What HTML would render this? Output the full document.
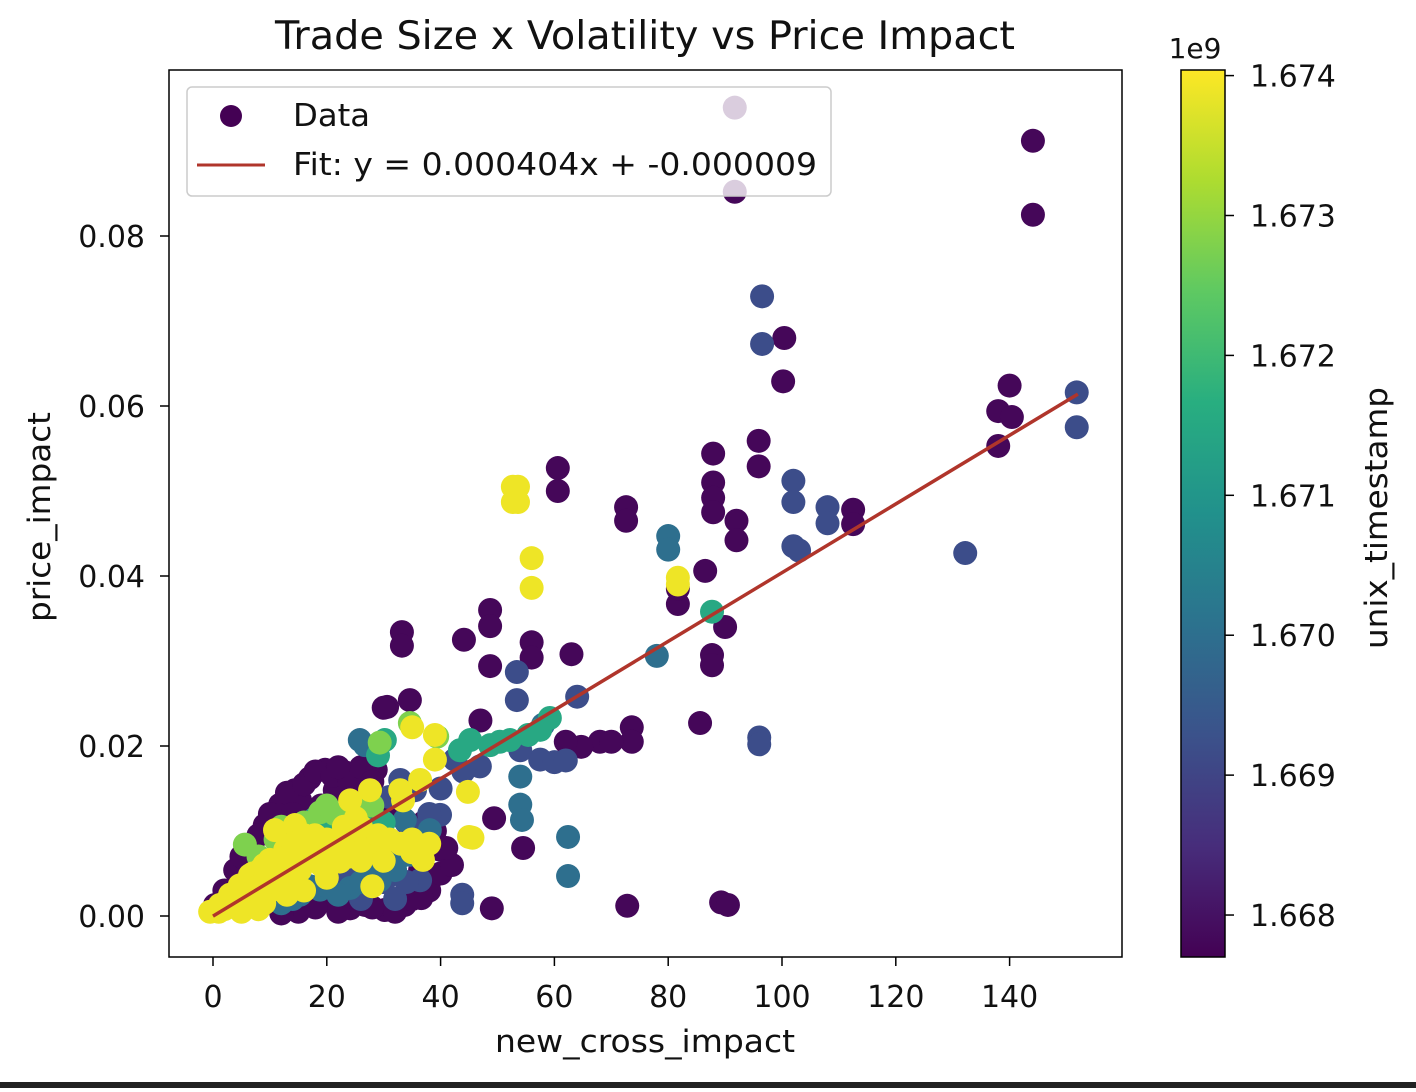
<!DOCTYPE html>
<html><head><meta charset="utf-8"><style>
body{margin:0;background:#fff;width:1416px;height:1088px;overflow:hidden;font-family:"DejaVu Sans","Liberation Sans",sans-serif}
</style></head><body>
<svg id="chart" width="1416" height="1088" xmlns="http://www.w3.org/2000/svg" font-family="DejaVu Sans, Liberation Sans, sans-serif">
<defs>
<linearGradient id="vir" x1="0" y1="1" x2="0" y2="0">
<stop offset="0" stop-color="#440154"/><stop offset="0.125" stop-color="#472d7b"/><stop offset="0.25" stop-color="#3b528b"/><stop offset="0.375" stop-color="#2c728e"/><stop offset="0.5" stop-color="#21918c"/><stop offset="0.625" stop-color="#28ae80"/><stop offset="0.75" stop-color="#5ec962"/><stop offset="0.875" stop-color="#addc30"/><stop offset="1" stop-color="#fde725"/>
</linearGradient>
<clipPath id="clip"><rect x="169" y="70" width="953" height="887"/></clipPath>
</defs>
<text x="645" y="49" font-size="39.5" text-anchor="middle" fill="#111" textLength="740" lengthAdjust="spacingAndGlyphs">Trade Size x Volatility vs Price Impact</text>
<g id="points" clip-path="url(#clip)"></g>
<line id="fit" stroke="#b0352b" stroke-width="3.5"/>
<rect x="169" y="70" width="953" height="887" fill="none" stroke="#000" stroke-width="1.5"/>
<g id="xticks"></g><g id="yticks"></g>
<text x="645" y="1052" font-size="31" text-anchor="middle" fill="#111" textLength="300" lengthAdjust="spacingAndGlyphs">new_cross_impact</text>
<text transform="translate(50,517) rotate(-90)" font-size="31" text-anchor="middle" fill="#111" textLength="210" lengthAdjust="spacingAndGlyphs">price_impact</text>
<g>
<rect x="187" y="87" width="644" height="109" rx="5" fill="#fff" fill-opacity="0.8" stroke="#ccc" stroke-width="1.5"/>
<circle cx="231" cy="116" r="11" fill="#440154"/>
<text x="293" y="126" font-size="31" fill="#111" textLength="77" lengthAdjust="spacingAndGlyphs">Data</text>
<line x1="197" y1="165" x2="265" y2="165" stroke="#b0352b" stroke-width="3"/>
<text x="293" y="175" font-size="31" fill="#111" textLength="524" lengthAdjust="spacingAndGlyphs">Fit: y = 0.000404x + -0.000009</text>
</g>
<rect x="1181" y="70" width="44" height="887" fill="url(#vir)" stroke="#000" stroke-width="1.5"/>
<g id="cticks"></g>
<text x="1195" y="58" font-size="28" text-anchor="middle" fill="#111">1e9</text>
<text transform="translate(1387,518) rotate(-90)" font-size="31" text-anchor="middle" fill="#111" textLength="262" lengthAdjust="spacingAndGlyphs">unix_timestamp</text>
<rect x="0" y="1082" width="1416" height="6" fill="#222"/>
</svg>
<script>
const xTicks=[0,20,40,60,80,100,120,140];
const yTicks=[0,0.02,0.04,0.06,0.08];
const yTickLabels=["0.00","0.02","0.04","0.06","0.08"];
const cTicks=[1.668,1.669,1.670,1.671,1.672,1.673,1.674];
const fitSlope=0.000404, fitIntercept=-0.000009, fitXMax=152;
const tDark=1.6678,tBlue=1.6692,tTeal=1.6700,tGreen=1.6715,tLime=1.6728,tYel=1.6739;
const ptsDark=[[0.35,0.0013],[3.9,0.0054],[6.5,0.0078],[9.1,0.0107],[11.8,0.0131],[14.4,0.0148],[17.0,0.0162],[19.7,0.0172],[23.2,0.0169],[21.4,0.0148],[15.3,0.0136],[25.0,0.0136],[26.7,0.0013],[30.2,0.0007],[24.1,0.0009],[33.7,0.0013],[36.4,0.0054],[38.1,0.0042],[30.6,0.0246],[34.6,0.0254],[39.9,0.0078],[28.6,0.0172],
[2,0.003],[5,0.007],[8,0.0095],[10,0.012],[13,0.0145],[16,0.0155],[18,0.017],[21,0.0165],[24,0.016],[27,0.015],[26,0.0175],[22,0.0175],[14,0.012],[19,0.013],[28,0.0158],[31,0.013],[20,0.002],[22,0.0005],[28,0.001],[32,0.0005],[35,0.002],[38,0.003],[40,0.005],[42,0.006],[18,0.001],[15,0.0005],[12,0.0003],[37,0.011],[39,0.01],[41,0.008],
[91.7,0.0951],[91.7,0.0852],[144.1,0.0912],[144.1,0.0825],[100.4,0.068],[100.2,0.0629],[140,0.0624],[138,0.0594],[140.4,0.0587],[138,0.0553],[60.6,0.0527],[60.6,0.05],[72.6,0.0481],[72.6,0.0465],[87.9,0.0544],[87.9,0.051],[87.9,0.0492],[87.9,0.0475],[95.9,0.0559],[95.9,0.0529],[92,0.0465],[92,0.0442],[112.5,0.0478],[112.5,0.0461],[81.7,0.0367],[81.7,0.0385],[86.5,0.0406],[90,0.034],[48.7,0.036],[48.7,0.0341],[44.1,0.0325],[33.2,0.0334],[33.2,0.0318],[56,0.0322],[56,0.0304],[48.7,0.0294],[63,0.0308],[87.7,0.0307],[87.7,0.0295],[85.6,0.0227],[73.6,0.0222],[73.6,0.0205],[68,0.0205],[70,0.0205],[64.7,0.0199],[47,0.023],[54.5,0.008],[49.4,0.0115],[72.8,0.0012],[89.3,0.0016],[90.5,0.0013],[49,0.0009],[36.6,0.0021],[30,0.0245],[62,0.0205]];
const ptsBlue=[[20.6,0.0042],[24.1,0.0054],[32.9,0.0084],[36.4,0.0101],[39.9,0.0119],[29.3,0.0066],[32.9,0.016],[35.5,0.0148],[42.5,0.0184],[36.4,0.0042],[46.9,0.0176],[57.5,0.0184],[54,0.0195],[43.8,0.0025],[43.8,0.0015],
[25,0.005],[27,0.007],[30,0.009],[34,0.011],[38,0.012],[30,0.004],[34,0.004],[28,0.012],[31,0.014],[40,0.015],[44,0.017],[26,0.002],[32,0.002],
[96.5,0.0729],[96.5,0.0673],[102,0.0512],[102,0.0487],[108,0.0481],[108,0.0462],[132.2,0.0427],[102,0.0435],[103,0.043],[53.4,0.0287],[53.4,0.0254],[64,0.0258],[96,0.021],[96,0.0202],[60,0.0181],[62,0.0183],[151.8,0.0616],[151.8,0.0575]];
const ptsTeal=[[15.3,0.0025],[18.8,0.0031],[24.1,0.0033],[29.3,0.0042],[32,0.0054],[34.6,0.0072],[38.1,0.0101],[33.7,0.0113],[25.8,0.0207],[26.7,0.0201],
[14,0.002],[17,0.0035],[20,0.0035],[22,0.0025],[26,0.004],[28,0.0055],[30,0.006],[33,0.007],[36,0.008],[12,0.0015],[24,0.009],[27,0.010],
[80,0.0447],[80,0.0431],[78,0.0306],[54,0.0164],[54,0.0131],[54.3,0.0113],[62.4,0.0093],[62.4,0.0047],[58,0.0225]];
const ptsGreen=[[30.2,0.0207],[29,0.0189],[22.3,0.0101],[25.8,0.0119],[45.2,0.0207],[48.7,0.0201],[52.2,0.0207],[55.4,0.0213],[59.2,0.0233],[57.5,0.0219],[43.4,0.0195],[50.4,0.0205],[87.7,0.0358],[18,0.0115],[20,0.010],[23,0.012],[26,0.0125],[15,0.008],[30,0.011]];
const ptsLime=[[5.6,0.0084],[18.8,0.0122],[34.6,0.0227],[29.3,0.0204],[39.4,0.0211],[21.4,0.012],[12,0.0105],[8,0.007],[11,0.009],[16,0.011],[20,0.013],[24,0.0125],[28,0.013]];
const ptsYel=[[-0.5,0.0005],[1.2,0.0013],[3,0.0025],[4.7,0.0036],[6.5,0.0048],[8.3,0.0054],[10,0.0066],[12.7,0.0078],[15.3,0.0089],[17.9,0.0095],[20.6,0.0084],[23.2,0.0089],[25.8,0.0078],[10.9,0.0101],[14.4,0.0107],[10,0.0042],[13.5,0.0048],[17,0.0066],[22.3,0.0064],[29.3,0.0078],[7.4,0.0031],[3.9,0.0019],[27.6,0.0148],[24.1,0.0136],[32.9,0.0148],[36.4,0.016],[33.4,0.0136],[15.3,0.0054],[18.8,0.0078],[36.9,0.0066],[25.1,0.0115],[11.8,0.0031],[39,0.0213],[39,0.0184],[35,0.0222],[45,0.0093],[45.6,0.0092],[44.8,0.0146],[52.7,0.0505],[52.7,0.0487],[53.6,0.0505],[53.6,0.0487],[56,0.0421],[56,0.0386],[81.7,0.0398],[81.7,0.039],[20,0.0045],[6,0.002],[2,0.0008],[28,0.0035],
[1,0.0005],[2,0.0015],[4,0.0012],[5,0.003],[6,0.004],[7,0.005],[8,0.0035],[9,0.006],[11,0.0055],[12,0.0065],[13,0.007],[14,0.0085],[16,0.0075],[16,0.0095],[18,0.0085],[19,0.006],[21,0.007],[22,0.0075],[24,0.007],[26,0.0065],[27,0.0085],[29,0.0095],[31,0.009],[33,0.0085],[35,0.009],[30,0.0065],[9,0.0015],[13,0.0025],[16,0.003],[5,0.0005],[8,0.0008],[20,0.009],[23,0.0105],[26,0.0105],[35,0.0075],[38,0.0085]];
const xs=ptsDark.map(p=>p[0]).concat(ptsBlue.map(p=>p[0]),ptsTeal.map(p=>p[0]),ptsGreen.map(p=>p[0]),ptsLime.map(p=>p[0]),ptsYel.map(p=>p[0]));
const ys=ptsDark.map(p=>p[1]).concat(ptsBlue.map(p=>p[1]),ptsTeal.map(p=>p[1]),ptsGreen.map(p=>p[1]),ptsLime.map(p=>p[1]),ptsYel.map(p=>p[1]));
const ts=ptsDark.map(()=>tDark).concat(ptsBlue.map(()=>tBlue),ptsTeal.map(()=>tTeal),ptsGreen.map(()=>tGreen),ptsLime.map(()=>tLime),ptsYel.map(()=>tYel));

const NS="http://www.w3.org/2000/svg";
const X=v=>213+v*5.69, Y=v=>916-v*8500;
const tMin=1.66770,tMax=1.67404;
const C=v=>957-(v-tMin)/(tMax-tMin)*887;
const vir=[[68,1,84],[72,40,120],[62,73,137],[49,104,142],[38,130,142],[31,158,137],[53,183,121],[109,205,89],[180,222,44],[253,231,37]];
function col(t){let f=Math.max(0,Math.min(1,(t-tMin)/(tMax-tMin)))*(vir.length-1);let i=Math.min(vir.length-2,Math.floor(f)),r=f-i;const a=vir[i],b=vir[i+1];return `rgb(${a.map((v,k)=>Math.round(v+(b[k]-v)*r)).join(',')})`;}
function mk(tag,attrs,parent){const e=document.createElementNS(NS,tag);for(const k in attrs)e.setAttribute(k,attrs[k]);parent.appendChild(e);return e;}
const g=document.getElementById('points');
xs.forEach((x,i)=>{const c=mk('circle',{cx:X(x),cy:Y(ys[i]),r:12,fill:col(ts[i])},g);

});
const fit=document.getElementById('fit');
fit.setAttribute('x1',X(0));fit.setAttribute('y1',Y(fitIntercept));
fit.setAttribute('x2',X(fitXMax));fit.setAttribute('y2',Y(fitSlope*fitXMax+fitIntercept));
const xt=document.getElementById('xticks');
xTicks.forEach(v=>{mk('line',{x1:X(v),x2:X(v),y1:957,y2:966,stroke:'#000','stroke-width':1.5},xt);
const t=mk('text',{x:X(v),y:1007,'font-size':30,'text-anchor':'middle',fill:'#111'},xt);t.textContent=v;

});
const yt=document.getElementById('yticks');
yTicks.forEach((v,i)=>{mk('line',{x1:160,x2:169,y1:Y(v),y2:Y(v),stroke:'#000','stroke-width':1.5},yt);
const t=mk('text',{x:145,y:Y(v)+11,'font-size':30,'text-anchor':'end',fill:'#111'},yt);t.textContent=yTickLabels[i];

});
const ct=document.getElementById('cticks');
cTicks.forEach(v=>{mk('line',{x1:1225,x2:1234,y1:C(v),y2:C(v),stroke:'#000','stroke-width':1.5},ct);
const t=mk('text',{x:1250,y:C(v)+11,'font-size':30,fill:'#111'},ct);t.textContent=v.toFixed(3);

});
</script>
</body></html>
